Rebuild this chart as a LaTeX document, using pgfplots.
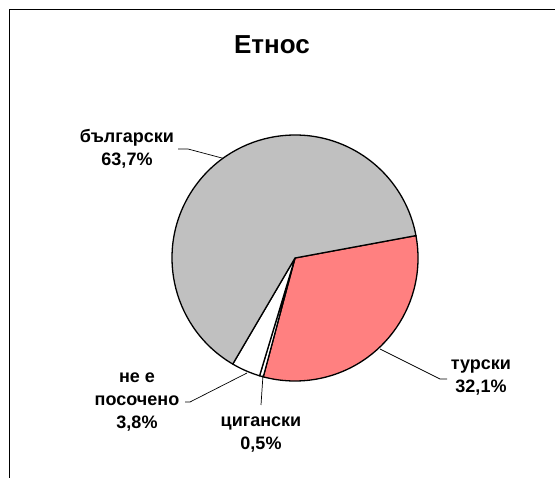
\documentclass[border=0pt]{standalone}
\usepackage{pgfplots}
\usepackage{pgfplotstable}
\pgfplotsset{compat=1.18}
\usepackage{fontspec}
\setmainfont{Liberation Sans}
\definecolor{grayslice}{HTML}{C0C0C0}
\definecolor{salmonslice}{HTML}{FF8080}

\pgfplotstableread{
name value
turski 32.1
tsiganski 0.5
neposocheno 3.8
bulgarski 63.7
}\piedata

\begin{document}
\begin{tikzpicture}
\useasboundingbox (0,0) rectangle (555bp,478bp);
\pgfplotstablegetelem{0}{value}\of\piedata \let\vA\pgfplotsretval
\pgfplotstablegetelem{1}{value}\of\piedata \let\vB\pgfplotsretval
\pgfplotstablegetelem{2}{value}\of\piedata \let\vC\pgfplotsretval
\pgfplotstablegetelem{3}{value}\of\piedata \let\vD\pgfplotsretval
\pgfmathsetmacro\total{\vA+\vB+\vC+\vD}
\pgfmathsetmacro\aO{10.5}
\pgfmathsetmacro\aA{\aO-\vA/\total*360}
\pgfmathsetmacro\aB{\aA-\vB/\total*360}
\pgfmathsetmacro\aC{\aB-\vC/\total*360}
\pgfmathsetmacro\aD{\aC-\vD/\total*360}
\begin{axis}[x=1bp,y=1bp,xmin=0,xmax=555,ymin=0,ymax=478,hide axis,clip=false,
  at={(0,0)},anchor=south west]
% frame
\draw[line width=1.2bp] (axis cs:9.5,-20) -- (axis cs:9.5,468.5) -- (axis cs:575,468.5);
% slices
\filldraw[fill=salmonslice,draw=black,line width=1.3bp,line join=round]
  (axis cs:295,220) -- ++(\aO:123bp) arc[start angle=\aO,end angle=\aA,radius=123bp] -- cycle;
\filldraw[fill=white,draw=black,line width=1.3bp,line join=round]
  (axis cs:295,220) -- ++(\aA:123bp) arc[start angle=\aA,end angle=\aB,radius=123bp] -- cycle;
\filldraw[fill=white,draw=black,line width=1.3bp,line join=round]
  (axis cs:295,220) -- ++(\aB:123bp) arc[start angle=\aB,end angle=\aC,radius=123bp] -- cycle;
\filldraw[fill=grayslice,draw=black,line width=1.3bp,line join=round]
  (axis cs:295,220) -- ++(\aC:123bp) arc[start angle=\aC,end angle=\aD,radius=123bp] -- cycle;
% leader lines
\draw[line width=0.7bp] (axis cs:178,329) -- (axis cs:188,329) -- (axis cs:223,319.7);
\draw[line width=0.7bp] (axis cs:380,129) -- (axis cs:440,99) -- (axis cs:447,99);
\draw[line width=0.7bp] (axis cs:185,76) -- (axis cs:190,76) -- (axis cs:247,105);
\draw[line width=0.7bp] (axis cs:263,103) -- (axis cs:261,73);
% labels
\tikzset{lbl/.style={align=center,inner sep=0pt,font=\bfseries\fontsize{18bp}{23bp}\selectfont}}
\node[lbl] at (axis cs:127,329) {български\\63,7\%};
\node[lbl] at (axis cs:481,100) {турски\\32,1\%};
\node[lbl] at (axis cs:261,43) {цигански\\0,5\%};
\node[lbl] at (axis cs:137,76) {не е\\посочено\\3,8\%};
\node[inner sep=0pt,font=\bfseries\fontsize{26bp}{30bp}\selectfont] at (axis cs:272,433) {Етнос};
\end{axis}
\end{tikzpicture}
\end{document}
